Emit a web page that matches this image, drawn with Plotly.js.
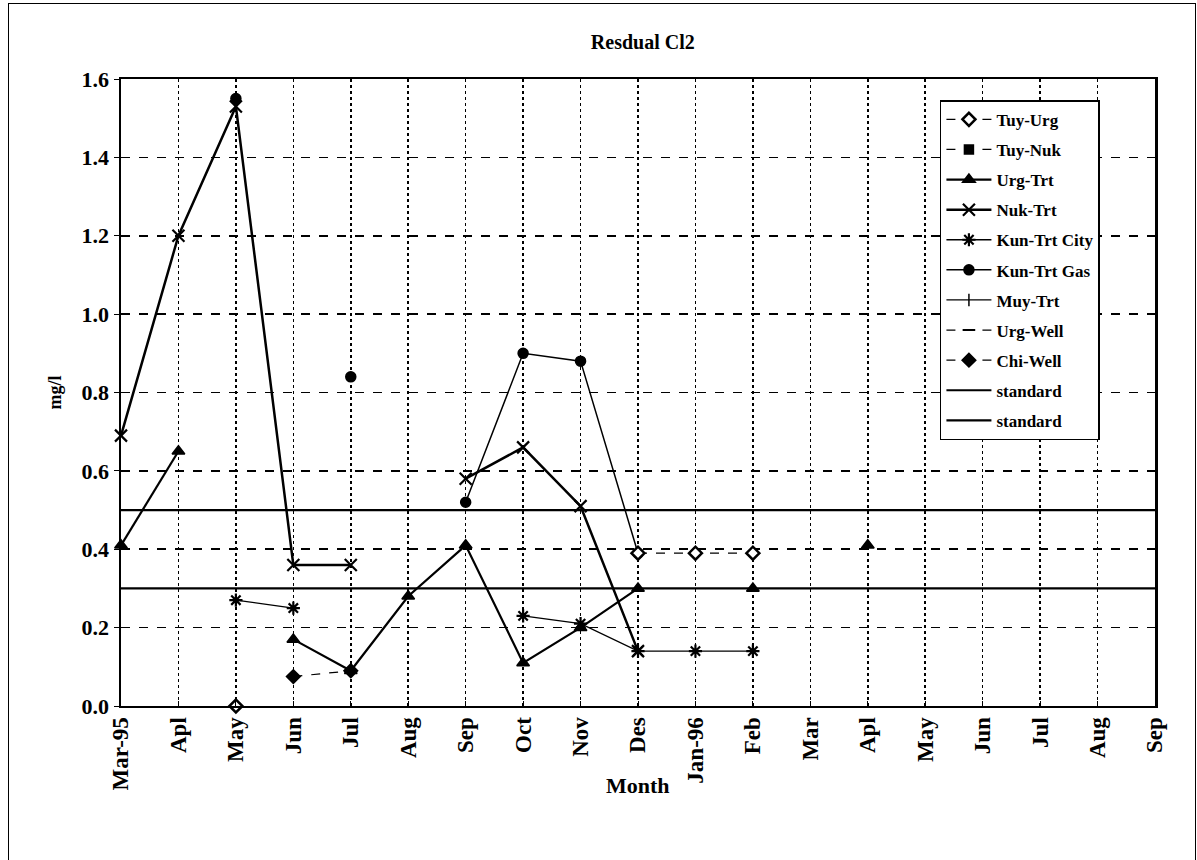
<!DOCTYPE html>
<html>
<head>
<meta charset="utf-8">
<script src="https://cdn.plot.ly/plotly-3.0.1.min.js"></script>
<style>
  html, body { margin: 0; padding: 0; background: #fff; }
  #frame { position: absolute; left: 8px; top: 3px; width: 1186px; height: 900px;
           border-left: 1.5px solid #000; border-top: 1px solid #000; border-right: 1px solid #000; pointer-events: none; z-index: 5; }
  #chart { position: absolute; left: 0; top: 0; width: 1197px; height: 860px; }
</style>
</head>
<body>
<div id="chart"></div>
<div id="frame"></div>
<script>
// Month tick labels (19 categories)
const months = ['Mar-95','Apl','May','Jun','Jul','Aug','Sep','Oct','Nov','Des','Jan-96','Feb','Mar','Apl','May','Jun','Jul','Aug','Sep'];
const xIdx = months.map((m, i) => i);

// Series values (mg/l), null = no measurement
const tuyUrg     = [null, null, 0.00, null, null, null, null, null, null, 0.39, 0.39, 0.39, null, null, null, null, null, null, null];
const tuyNuk     = [null, null, null, null, null, null, null, null, null, null, null, null, null, null, null, null, null, null, null];
const urgTrt     = [0.41, 0.65, null, 0.17, 0.09, 0.28, 0.41, 0.11, 0.20, 0.30, null, 0.30, null, 0.41, null, null, null, null, null];
const nukTrt     = [0.69, 1.20, 1.53, 0.36, 0.36, null, 0.58, 0.66, 0.51, 0.14, null, null, null, null, null, null, null, null, null];
const kunTrtCity = [null, null, 0.27, 0.25, null, null, null, 0.23, 0.21, 0.14, 0.14, 0.14, null, null, null, null, null, null, null];
const kunTrtGas  = [null, null, 1.55, null, 0.84, null, 0.52, 0.90, 0.88, 0.39, null, null, null, null, null, null, null, null, null];
const muyTrt     = [null, null, null, null, null, null, null, null, null, null, null, null, null, null, null, null, null, null, null];
const urgWell    = [null, null, null, null, null, null, null, null, null, null, null, null, null, null, null, null, null, null, null];
const chiWell    = [null, null, null, 0.075, 0.09, null, null, null, null, null, null, null, null, null, null, null, null, null, null];
const standardHi = [0.5, 0.5];
const standardLo = [0.3, 0.3];
const standardX  = [0, 18];

const K = '#000';
function tr(name, y, mk, line, extra) {
  return Object.assign({
    type: 'scatter', mode: 'lines+markers', name: name, x: xIdx, y: y,
    legendgroup: name, connectgaps: false,
    line: Object.assign({color: K, width: 1.5}, line || {}),
    marker: Object.assign({color: K, size: 9, line: {color: K, width: 1.5}}, mk || {}),
    cliponaxis: false
  }, extra || {});
}

const traces = [
  tr('Tuy-Nuk', tuyNuk, {symbol: 'square', size: 9}, {dash: 'dash', width: 1.2}),
  tr('Urg-Trt', urgTrt, {symbol: 'triangle-up', size: 11}, {width: 2.2}),
  tr('Nuk-Trt', nukTrt, {symbol: 'x-thin', size: 12, line: {width: 2.2, color: K}}, {width: 2.5}),
  tr('Kun-Trt City', kunTrtCity, {symbol: 'asterisk', size: 11, line: {width: 2.2, color: K}}, {width: 1.3}),
  tr('Kun-Trt Gas', kunTrtGas, {symbol: 'circle', size: 10}, {width: 1.5}),
  tr('Muy-Trt', muyTrt, {symbol: 'line-ns', size: 9, line: {width: 1.5, color: K}}, {width: 1.3}),
  tr('Urg-Well', urgWell, {symbol: 'line-ew', size: 9, line: {width: 2, color: K}}, {dash: 'dash', width: 1.2}),
  tr('Chi-Well', chiWell, {symbol: 'diamond-cross', size: 10, line: {width: 2, color: K}}, {dash: 'dash', width: 1.2}),
  tr('Tuy-Urg', tuyUrg, {symbol: 'diamond', color: '#fff', size: 10, line: {width: 2.5, color: K}}, {dash: 'dash', width: 1.2}),
  {type: 'scatter', mode: 'lines', name: 'standard', legendgroup: 's1', x: standardX, y: standardHi,
   line: {color: K, width: 2.2}, cliponaxis: false},
  {type: 'scatter', mode: 'lines', name: 'standard', legendgroup: 's2', x: standardX, y: standardLo,
   line: {color: K, width: 2.2}, cliponaxis: false}
];
// legend order as in the reference: Tuy-Urg first
traces.forEach((t, i) => { t.legendrank = 100 + i; });
traces[8].legendrank = 1;

const serif = 'Liberation Serif, Times New Roman, serif';
const layout = {
  width: 1197, height: 860,
  margin: {l: 121, r: 42, t: 79, b: 154},
  paper_bgcolor: '#fff', plot_bgcolor: '#fff',
  showlegend: true,
  title: {text: '<b>Resdual Cl2</b>', x: 0.537, xanchor: 'center', y: 0.951, yanchor: 'middle',
          font: {family: serif, size: 20, color: K}},
  font: {family: serif, color: K},
  xaxis: {
    range: [0, 18], tickmode: 'array', tickvals: xIdx, ticktext: months.map(m => '<b>' + m + '</b>'),
    tickangle: -90, tickfont: {family: serif, size: 23, color: K},
    showgrid: true, gridcolor: K, griddash: 'dot', gridwidth: 1.6,
    showline: true, linecolor: K, linewidth: 2, mirror: true,
    ticks: 'inside', ticklen: 5, tickcolor: K,
    zeroline: false
  },
  yaxis: {
    range: [0, 1.6], dtick: 0.2, tickformat: '.1f',
    tickfont: {family: serif, size: 22, color: K, weight: 'bold'},
    showgrid: true, gridcolor: K, griddash: 'dash', gridwidth: 1.6,
    showline: true, linecolor: K, linewidth: 2.5, mirror: true,
    ticks: 'outside', ticklen: 5, tickcolor: K,
    zeroline: false,
    title: {text: '<b>mg/l</b>', font: {family: serif, size: 18, color: K}, standoff: 16}
  },
  annotations: [{
    text: '<b>Month</b>', xref: 'paper', yref: 'paper', x: 0.5, y: -0.126,
    xanchor: 'center', yanchor: 'middle', showarrow: false,
    font: {family: serif, size: 22, color: K}
  }],
  legend: {
    x: 0.792, y: 0.966, xanchor: 'left', yanchor: 'top',
    bgcolor: '#fff', bordercolor: K, borderwidth: 1.5,
    font: {family: serif, size: 17, color: K, weight: 'bold'},
    itemwidth: 45, tracegroupgap: 5, traceorder: 'grouped',
    itemclick: false
  }
};

Plotly.newPlot('chart', traces, layout, {displayModeBar: false, staticPlot: true});
</script>
</body>
</html>
